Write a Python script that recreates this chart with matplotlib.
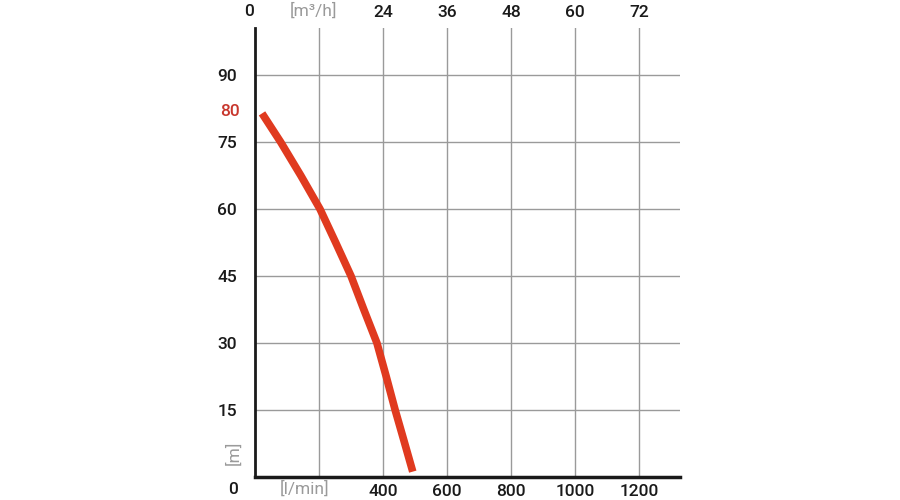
import numpy as np
import matplotlib.pyplot as plt
from matplotlib.transforms import blended_transform_factory

# pump curve: flow [l/min] vs head [m]
flow = [22, 51, 80, 143, 203, 252, 300, 340, 381, 410, 438, 466, 493]
head = [81.4, 78.2, 75, 67.5, 60, 52.5, 45, 37.5, 30, 22.5, 15, 8, 1.2]

x_grid = [200, 400, 600, 800, 1000, 1200]
x_labels = ['', '400', '600', '800', '1000', '1200']
top_labels = ['24', '36', '48', '60', '72']
top_pos = [400, 600, 800, 1000, 1200]
y_grid = [15, 30, 45, 60, 75, 90]
y_labels = ['15', '30', '45', '60', '75', '90']

dark = '#1a1a1a'
grey = '#9a9a9a'
red = '#e03a1f'
font = 'Roboto'
wt = 'medium'

fig = plt.figure(figsize=(9, 5), dpi=100)
ax = fig.add_axes([255 / 900, 23 / 500, 425 / 900, 449 / 500])
ax.set_xlim(0, 425 / 0.32)
ax.set_ylim(0, 449 / 4.467)

ax.plot(flow, head, color=red, lw=5.5, solid_capstyle='butt',
        solid_joinstyle='round', zorder=3)

ax.set_xticks(x_grid, x_labels)
ax.set_yticks(y_grid, y_labels)
ax.grid(True, color=grey, lw=1)
ax.tick_params(length=0, labelsize=12.5, colors=dark)
ax.tick_params(axis='x', pad=5)
ax.tick_params(axis='y', pad=13)
for lab in ax.get_xticklabels() + ax.get_yticklabels():
    lab.set_fontfamily(font)
    lab.set_fontweight(wt)

for side in ['top', 'right']:
    ax.spines[side].set_visible(False)
ax.spines['left'].set_linewidth(2)
ax.spines['bottom'].set_linewidth(2.5)
ax.spines['left'].set_color(dark)
ax.spines['bottom'].set_color(dark)

top = ax.secondary_xaxis('top')
top.set_xticks(top_pos, top_labels)
top.tick_params(length=0, labelsize=12.5, colors=dark, pad=6)
top.spines['top'].set_visible(False)
for lab in top.get_xticklabels():
    lab.set_fontfamily(font)
    lab.set_fontweight(wt)

kw = dict(fontsize=12.5, fontfamily=font, ha='center', va='center')
tb = blended_transform_factory(ax.transData, fig.transFigure)
ax.text(-20, 1 - 11 / 500, '0', color=dark, fontweight=wt, transform=tb, **kw)
ax.text(184, 1 - 11 / 500, '[m³/h]', color=grey, transform=tb, **kw)
ax.text(-69, 11 / 500, '0', color=dark, fontweight=wt, transform=tb, **kw)
ax.text(156, 11 / 500, '[l/min]', color=grey, transform=tb, **kw)

ty = blended_transform_factory(fig.transFigure, ax.transData)
ax.text(230 / 900, 81.9, '80', color='#c8372d', fontweight=wt, transform=ty, **kw)
ax.text(233 / 900, 5.5, '[m]', color=grey, rotation=90, transform=ty, **kw)

fig.savefig('out.png', dpi=100)
